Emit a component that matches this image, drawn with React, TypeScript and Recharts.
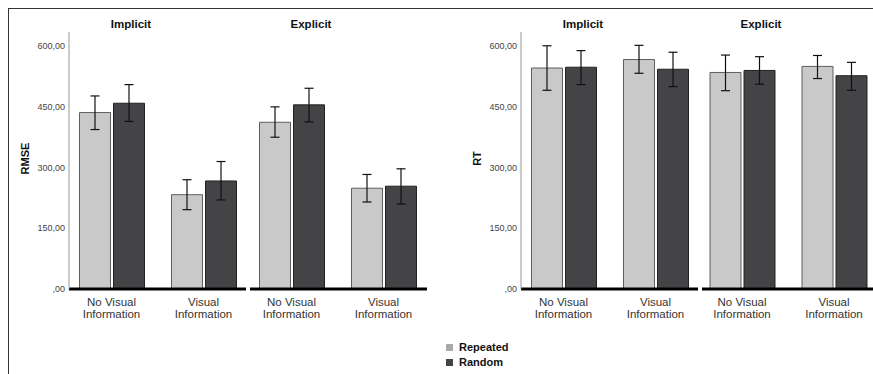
import React from "react";
import { Bar, BarChart, ErrorBar, XAxis, YAxis } from "recharts";

// Each entry: [mean, lower CI, upper CI]
const CONDITIONS = ["No Visual Information", "Visual Information"];
const Y_TICKS = [0, 150, 300, 450, 600];
const Y_MAX = 635;

const RMSE_IMPLICIT_REPEATED = [[436, 394, 477], [233, 196, 270]];
const RMSE_IMPLICIT_RANDOM = [[459, 414, 505], [267, 220, 315]];
const RMSE_EXPLICIT_REPEATED = [[412, 375, 450], [249, 215, 283]];
const RMSE_EXPLICIT_RANDOM = [[455, 413, 496], [254, 210, 297]];

const RT_IMPLICIT_REPEATED = [[546, 491, 601], [567, 533, 602]];
const RT_IMPLICIT_RANDOM = [[548, 505, 589], [543, 500, 585]];
const RT_EXPLICIT_REPEATED = [[535, 490, 578], [550, 520, 577]];
const RT_EXPLICIT_RANDOM = [[540, 506, 574], [527, 491, 560]];

const FONT = '"Liberation Sans", Arial, sans-serif';
const REPEATED_FILL = "#c9c9c9";
const RANDOM_FILL = "#444446";

function CondTick({ x, y, payload }: any) {
  const words = String(payload.value).split(" ");
  const first = words.slice(0, -1).join(" ");
  const last = words[words.length - 1];
  return (
    <text x={x} y={y} textAnchor="middle" fontSize={11.5} fill="#333" fontFamily={FONT}>
      <tspan x={x} dy={17}>{first}</tspan>
      <tspan x={x} dy={12}>{last}</tspan>
    </text>
  );
}

function AxisTitle({ viewBox, value }: any) {
  const cx = viewBox.x + 16;
  const cy = viewBox.y + viewBox.height / 2 - 2;
  return (
    <text
      x={cx}
      y={cy}
      transform={`rotate(-90 ${cx} ${cy})`}
      textAnchor="middle"
      dominantBaseline="central"
      fontSize={11}
      fontWeight="bold"
      fill="#111"
      fontFamily={FONT}
    >
      {value}
    </text>
  );
}

function Facet({ left, width, yLabel, padding, repeated, random }: any) {
  const data = CONDITIONS.map((c, i) => ({
    name: c,
    rep: repeated[i][0],
    repErr: [repeated[i][0] - repeated[i][1], repeated[i][2] - repeated[i][0]],
    rnd: random[i][0],
    rndErr: [random[i][0] - random[i][1], random[i][2] - random[i][0]],
  }));
  return (
    <div style={{ position: "absolute", left, top: 0 }}>
      <BarChart
        width={width}
        height={340}
        data={data}
        margin={{ top: 32, right: 0, left: 0, bottom: 0 }}
        barSize={31}
        barGap={3}
      >
        <XAxis
          dataKey="name"
          height={51}
          interval={0}
          tickLine={false}
          tickSize={0}
          tickMargin={0}
          axisLine={{ stroke: "#000", strokeWidth: 3 }}
          tick={<CondTick />}
          padding={padding}
        />
        <YAxis
          hide={!yLabel}
          width={60}
          domain={[0, Y_MAX]}
          ticks={Y_TICKS}
          tickLine={false}
          tickSize={0}
          tickMargin={4}
          axisLine={{ stroke: "#999", strokeWidth: 1 }}
          tick={{ fontSize: 9, fill: "#444", fontFamily: FONT }}
          tickFormatter={(v) => (v === 0 ? ",00" : `${v},00`)}
          label={yLabel ? (p: any) => <AxisTitle {...p} value={yLabel} /> : undefined}
        />
        <Bar dataKey="rep" fill={REPEATED_FILL} stroke="#5e5e5e" strokeWidth={1} isAnimationActive={false}>
          <ErrorBar dataKey="repErr" width={4.5} stroke="#111" strokeWidth={1.2} />
        </Bar>
        <Bar dataKey="rnd" fill={RANDOM_FILL} stroke="#222" strokeWidth={1} isAnimationActive={false}>
          <ErrorBar dataKey="rndErr" width={4.5} stroke="#111" strokeWidth={1.2} />
        </Bar>
      </BarChart>
    </div>
  );
}

function Title({ x, text }: { x: number; text: string }) {
  return (
    <div
      style={{
        position: "absolute",
        left: x - 40,
        width: 80,
        top: 18,
        textAlign: "center",
        fontSize: 11.5,
        fontWeight: "bold",
        color: "#111",
        fontFamily: FONT,
      }}
    >
      {text}
    </div>
  );
}

function LegendItem({ y, color, text }: { y: number; color: string; text: string }) {
  return (
    <div style={{ position: "absolute", left: 446, top: y, display: "flex", alignItems: "center" }}>
      <span style={{ width: 7, height: 7, background: color, marginRight: 6 }} />
      <span style={{ fontSize: 11, fontWeight: "bold", color: "#111", fontFamily: FONT }}>{text}</span>
    </div>
  );
}

export default function App() {
  return (
    <div
      style={{
        position: "absolute",
        left: 0,
        top: 0,
        width: 873,
        height: 374,
        overflow: "hidden",
        background: "#fff",
      }}
    >
      <div
        style={{
          position: "absolute",
          left: 8,
          top: 8,
          width: 900,
          height: 400,
          borderLeft: "1.5px solid #333",
          borderTop: "1.5px solid #333",
        }}
      />
      <Facet left={9} width={237} yLabel="RMSE" padding={{ left: -3.5, right: -3.5 }}
        repeated={RMSE_IMPLICIT_REPEATED} random={RMSE_IMPLICIT_RANDOM} />
      <Facet left={250} width={177} padding={{ left: -4.5, right: -2.5 }}
        repeated={RMSE_EXPLICIT_REPEATED} random={RMSE_EXPLICIT_RANDOM} />
      <Facet left={461} width={237} yLabel="RT" padding={{ left: -3.5, right: -3.5 }}
        repeated={RT_IMPLICIT_REPEATED} random={RT_IMPLICIT_RANDOM} />
      <Facet left={702} width={177} padding={{ left: -6, right: -1 }}
        repeated={RT_EXPLICIT_REPEATED} random={RT_EXPLICIT_RANDOM} />
      <Title x={131} text="Implicit" />
      <Title x={311} text="Explicit" />
      <Title x={583} text="Implicit" />
      <Title x={761} text="Explicit" />
      <LegendItem y={341} color="#a9a9a9" text="Repeated" />
      <LegendItem y={356} color="#444" text="Random" />
    </div>
  );
}
